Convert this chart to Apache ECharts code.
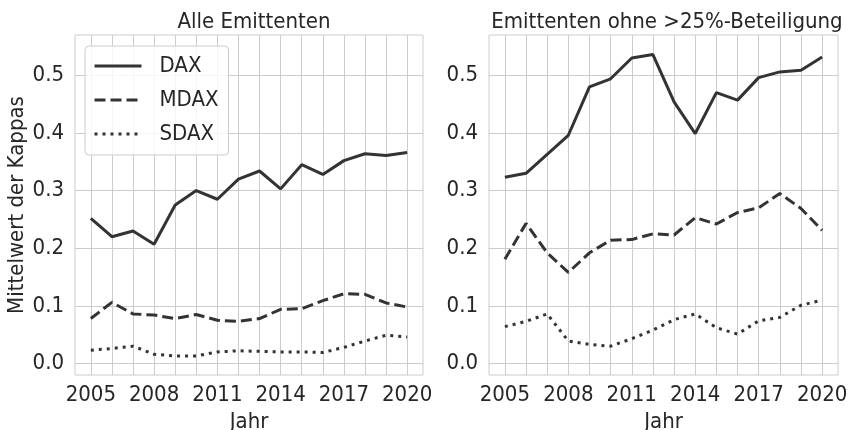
<!DOCTYPE html>
<html>
<head>
<meta charset="utf-8">
<script src="https://cdn.jsdelivr.net/npm/echarts@6/dist/echarts.min.js"></script>
<style>
  html, body { margin: 0; padding: 0; background: #fff; }
  #chart { width: 849px; height: 430px; }
</style>
</head>
<body>
<div id="chart"></div>
<script>
// Jahre und Tick-Beschriftungen
var years = [2005, 2006, 2007, 2008, 2009, 2010, 2011, 2012, 2013, 2014, 2015, 2016, 2017, 2018, 2019, 2020];
var yearLabels = [2005, 2008, 2011, 2014, 2017, 2020];
var yTicks = [0, 0.1, 0.2, 0.3, 0.4, 0.5];

// Alle Emittenten
var daxAll  = [0.252, 0.220, 0.230, 0.207, 0.275, 0.300, 0.285, 0.320, 0.334, 0.303, 0.345, 0.328, 0.352, 0.364, 0.361, 0.366];
var mdaxAll = [0.078, 0.106, 0.086, 0.084, 0.078, 0.085, 0.075, 0.073, 0.078, 0.094, 0.095, 0.109, 0.121, 0.120, 0.105, 0.098];
var sdaxAll = [0.023, 0.026, 0.030, 0.016, 0.013, 0.013, 0.020, 0.022, 0.021, 0.020, 0.020, 0.019, 0.028, 0.039, 0.049, 0.046];

// Emittenten ohne >25%-Beteiligung
var daxOhne  = [0.323, 0.330, 0.363, 0.396, 0.480, 0.494, 0.530, 0.536, 0.454, 0.399, 0.470, 0.457, 0.496, 0.506, 0.509, 0.532];
var mdaxOhne = [0.181, 0.243, 0.192, 0.158, 0.192, 0.214, 0.215, 0.225, 0.223, 0.253, 0.242, 0.262, 0.270, 0.295, 0.269, 0.231];
var sdaxOhne = [0.064, 0.073, 0.086, 0.039, 0.033, 0.030, 0.043, 0.058, 0.076, 0.086, 0.062, 0.051, 0.074, 0.080, 0.101, 0.110];

var FONT = "'DejaVu Sans Condensed', 'DejaVu Sans', sans-serif";
var TXT = "#262626";
var GRID = "#cccccc";
var LINE = "#333333";

function pairs(vals) {
  return years.map(function (y, i) { return [y, vals[i]]; });
}

function xAxis(idx) {
  return {
    type: "value",
    gridIndex: idx,
    min: 2004.25,
    max: 2020.75,
    name: "Jahr",
    nameLocation: "middle",
    nameGap: 30,
    nameTextStyle: { color: TXT, fontSize: 22, fontFamily: FONT },
    axisLine: { show: false },
    axisTick: { show: false, customValues: years },
    axisLabel: {
      customValues: yearLabels,
      formatter: function (v) { return String(v); },
      color: TXT, fontSize: 22, fontFamily: FONT, margin: 9
    },
    splitLine: { show: true, lineStyle: { color: GRID, width: 1 } }
  };
}

function yAxis(idx) {
  var ax = {
    type: "value",
    gridIndex: idx,
    min: -0.02,
    max: 0.57,
    axisLine: { show: false },
    axisTick: { show: false, customValues: yTicks },
    axisLabel: {
      customValues: yTicks,
      formatter: function (v) { return v.toFixed(1); },
      color: TXT, fontSize: 22, fontFamily: FONT, margin: 11
    },
    splitLine: { show: true, lineStyle: { color: GRID, width: 1 } }
  };
  if (idx === 0) {
    ax.name = "Mittelwert der Kappas";
    ax.nameLocation = "middle";
    ax.nameGap = 47;
    ax.nameTextStyle = { color: TXT, fontSize: 22, fontFamily: FONT };
  }
  return ax;
}

function line(name, vals, idx, type) {
  return {
    name: name,
    type: "line",
    xAxisIndex: idx,
    yAxisIndex: idx,
    data: pairs(vals),
    symbol: "none",
    lineStyle: { color: LINE, width: 3, type: type, cap: "butt" },
    itemStyle: { color: LINE },
    emphasis: { disabled: true }
  };
}

var chart = echarts.init(document.getElementById("chart"), null, { renderer: "canvas" });
chart.setOption({
  animation: false,
  backgroundColor: "#ffffff",
  title: [
    { text: "Alle Emittenten", left: 249, top: 6, textAlign: "center",
      textStyle: { color: TXT, fontSize: 22, fontWeight: "normal", fontFamily: FONT } },
    { text: "Emittenten ohne >25%-Beteiligung", left: 662, top: 6, textAlign: "center",
      textStyle: { color: TXT, fontSize: 22, fontWeight: "normal", fontFamily: FONT } }
  ],
  grid: [
    { left: 75, right: 426, top: 35, bottom: 55, show: true, borderColor: GRID, borderWidth: 1,
      containLabel: false, outerBoundsMode: "none" },
    { left: 489, right: 11, top: 35, bottom: 55, show: true, borderColor: GRID, borderWidth: 1,
      containLabel: false, outerBoundsMode: "none" }
  ],
  legend: {
    left: 85,
    top: 46,
    orient: "vertical",
    data: ["DAX", "MDAX", "SDAX"],
    itemWidth: 47,
    itemHeight: 14,
    itemGap: 10,
    padding: [8, 10, 9, 8],
    backgroundColor: "rgba(255,255,255,0.8)",
    borderColor: GRID,
    borderWidth: 1,
    borderRadius: 4,
    itemStyle: { opacity: 0, borderWidth: 0 },
    lineStyle: { width: 3 },
    textStyle: { color: TXT, fontSize: 22, fontFamily: FONT, lineHeight: 24, padding: [0, 0, 0, 13] }
  },
  xAxis: [xAxis(0), xAxis(1)],
  yAxis: [yAxis(0), yAxis(1)],
  series: [
    line("DAX", daxAll, 0, "solid"),
    line("MDAX", mdaxAll, 0, [11, 5]),
    line("SDAX", sdaxAll, 0, [3, 5]),
    line("DAX", daxOhne, 1, "solid"),
    line("MDAX", mdaxOhne, 1, [11, 5]),
    line("SDAX", sdaxOhne, 1, [3, 5])
  ]
});
</script>
</body>
</html>
